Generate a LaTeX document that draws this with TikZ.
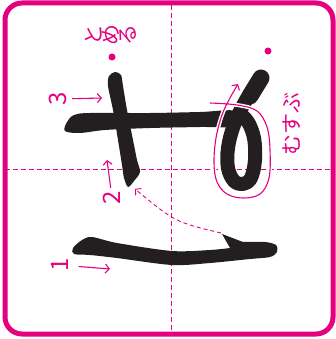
\documentclass[tikz,border=0pt]{standalone}
\usepackage{fontspec}
\usetikzlibrary{arrows.meta}
\newfontfamily\jpfont{Noto Sans CJK JP}
\definecolor{SePink}{HTML}{E4007F}
\definecolor{SeInk}{HTML}{231F20}

\begin{document}
\begin{tikzpicture}[
x=1pt, y=-1pt,
every node/.style={text=SePink, inner sep=0pt, font=\jpfont},
frame/.style={draw=SePink, line width=5pt, rounded corners=17pt},
guide/.style={draw=SePink, line width=0.9pt, dash pattern=on 5pt off 3pt},
inkstroke/.style={fill=SeInk},
inkline/.style={draw=SeInk, line cap=round, line join=round},
numlabel/.style={rotate=90, font=\jpfont\fontsize{24}{24}\selectfont},
kanalabel/.style={font=\jpfont\fontsize{21}{21}\selectfont},
pointer/.style={draw=SePink, line width=1.1pt, -{Straight Barb[length=4pt,width=9pt]}},
dotmark/.style={circle, fill=SePink, minimum size=7pt},
halo/.style={draw=white, line width=4pt}
]
\useasboundingbox (0,0) rectangle (336,339);
\draw[guide] (171,5) -- (171,334);
\draw[guide] (5,169) -- (333,169);
\draw[frame] (5,3) rectangle (333,334);
\fill[inkstroke] plot[smooth cycle, tension=0.55] coordinates {(65,131) (67,122) (74,115) (90,113) (150,113) (200,112) (236,111) (236,126) (200,127) (150,128) (105,130) (80,133)};
\fill[inkstroke] plot[smooth cycle, tension=0.5] coordinates {(115,72) (121,75) (123,86) (127,110) (133,140) (137,160) (140,172) (134,181) (128,187) (124,178) (122,165) (118,140) (113,110) (108,86) (109,76)};
\fill[inkstroke] plot[smooth, tension=0.5] coordinates {(230,248) (210,250) (172,251) (117,243) (92,237) (82,240) (73,248) (74,254) (90,255) (117,258) (172,265) (210,263) (250,259) (270,257) (277,252) (276,245) (265,242) (243,242)} -- (222,234) -- cycle;
\draw[inkline, line width=14pt] plot[smooth, tension=0.6] coordinates {(261,78) (246,100) (234,125) (228,148) (228,168) (234,181) (243,184) (251,178) (255,160) (254,138) (248,122) (240,114)};
\draw[inkline, line width=17pt] (261,78) -- (250,96);
\draw[halo] plot[smooth, tension=0.6] coordinates {(210,103) (237,105) (257,111) (267,127) (270,150) (269,178) (260,194) (243,198) (227,194) (217,182) (214,163) (216,138) (222,115) (230,98) (236,87)};
\draw[pointer] plot[smooth, tension=0.6] coordinates {(210,103) (237,105) (257,111) (267,127) (270,150) (269,178) (260,194) (243,198) (227,194) (217,182) (214,163) (216,138) (222,115) (230,98) (238,84)};
\node[kanalabel] (tomeru) at (111,35) {\rotatebox{90}{と}\rotatebox{90}{め}\rotatebox{90}{る}};
\node[kanalabel, rotate=90] (musubu) at (292,124) {むすぶ};
\node[dotmark] (stopdot) at (112,57) {};
\node[dotmark] (tiedot) at (268,51) {};
\node[numlabel] (three) at (58,99) {3};
\node[numlabel] (two) at (112,198) {2};
\node[numlabel] (one) at (60,265) {1};
\coordinate (threeend) at (102,98);
\coordinate (twoend) at (107,160);
\coordinate (oneend) at (110,269);
\coordinate (hooktip) at (221,233);
\coordinate (stemfoot) at (135,189);
\draw[pointer, shorten <=5pt] (three) -- (threeend);
\draw[pointer, shorten <=3pt] (two) -- (twoend);
\draw[pointer, shorten <=10pt] (one) -- (oneend);
\draw[pointer, line width=0.9pt, dash pattern=on 4pt off 3pt] (hooktip) .. controls (175,222) .. (stemfoot);
\end{tikzpicture}
\end{document}
